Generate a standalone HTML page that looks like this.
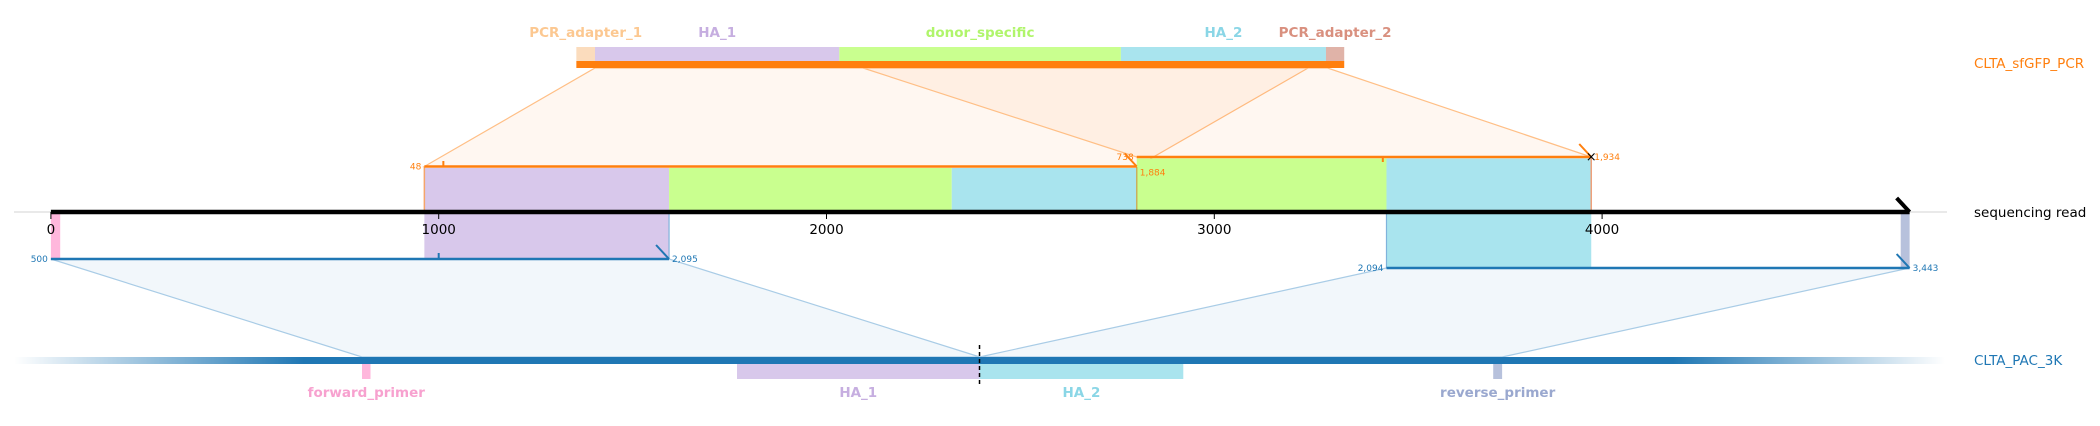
<!DOCTYPE html>
<html><head><meta charset="utf-8"><style>
html,body{margin:0;padding:0;background:#fff;}
svg{display:block;font-family:"DejaVu Sans","Liberation Sans",sans-serif;}
</style></head><body>
<svg id="chart" width="2100" height="426" viewBox="0 0 2100 426" xmlns="http://www.w3.org/2000/svg">
<defs>
<linearGradient id="fadeL" x1="0" x2="1" y1="0" y2="0"><stop offset="0" stop-color="#1f77b4" stop-opacity="0"/><stop offset="1" stop-color="#1f77b4" stop-opacity="1"/></linearGradient>
<linearGradient id="fadeR" x1="0" x2="1" y1="0" y2="0"><stop offset="0" stop-color="#1f77b4" stop-opacity="1"/><stop offset="1" stop-color="#1f77b4" stop-opacity="0"/></linearGradient>
</defs>
<g id="layer"></g>
</svg>
<script>
// read axis data (bp)
const tickValues = [0, 1000, 2000, 3000, 4000];
const readLength = 4793;
// top PCR reference features (query bp)
const pcrFeatureNames = ["PCR_adapter_1", "HA_1", "donor_specific", "HA_2", "PCR_adapter_2"];
const pcrFeatureStart = [0, 48, 677, 1402, 1930];
const pcrFeatureEnd = [48, 677, 1402, 1930, 1977];
const pcrFeatureColors = ["#fbdcbd", "#d8c8eb", "#c9ff8f", "#a9e4ee", "#e0b3a8"];
const pcrLabelColors = ["#fcc891", "#c6aee0", "#b0f56b", "#8ad6e6", "#d9907f"];
// PCR alignments
const pcrAlnReadStart = [963, 2800];
const pcrAlnReadEnd = [2800, 3972];
const pcrAlnQStart = [48, 738];
const pcrAlnQEnd = [1884, 1934];
// fills beneath PCR alignments (read coords)
const pcrFillStart = [963, 1594, 2323, 2800, 3444];
const pcrFillEnd = [1594, 2323, 2800, 3444, 3972];
const pcrFillColor = ["#d8c8eb", "#c9ff8f", "#a9e4ee", "#c9ff8f", "#a9e4ee"];
const pcrFillRow = [0, 0, 0, 1, 1];
// PAC alignments
const pacAlnReadStart = [0, 3444];
const pacAlnReadEnd = [1594, 4793];
const pacAlnQStart = [500, 2094];
const pacAlnQEnd = [2095, 3443];
// bottom reference features (bp on PAC)
const pacFeatureNames = ["forward_primer", "HA_1", "HA_2", "reverse_primer"];
const pacFeatureStart = [500, 1468, 2094, 3420];
const pacFeatureEnd = [522, 2094, 2620, 3443];
const pacFeatureColors = ["#ffb7dc", "#d8c8eb", "#a9e4ee", "#b7c1dc"];
const pacLabelColors = ["#f7a1cf", "#c6aee0", "#8ad6e6", "#9aa8cf"];

const NS = "http://www.w3.org/2000/svg";
const layer = document.getElementById("layer");
function el(tag, attrs, parent) {
  const e = document.createElementNS(NS, tag);
  for (const k in attrs) e.setAttribute(k, attrs[k]);
  (parent || layer).appendChild(e);
  return e;
}
function xRead(v) { return 50.9 + v * 0.3878; }
function xPcr(q) { return 595 + (q - 48) * 0.3884; }
function xPac(q) { return 362 + (q - 500) * 0.3874; }
const axisY = 212, pcrRowY = [166.5, 157], pacRowY = [259, 268];

for (let i = 0; i < pcrAlnReadStart.length; i++) {
  const p = el("polygon", {points: `${xPcr(pcrAlnQStart[i])},68 ${xPcr(pcrAlnQEnd[i])},68 ${xRead(pcrAlnReadEnd[i])},${pcrRowY[i]} ${xRead(pcrAlnReadStart[i])},${pcrRowY[i]}`, fill: "#ff7f0e", "fill-opacity": "0.06", stroke: "#ffbf86", "stroke-width": "1.2"});
  
  
}
for (let i = 0; i < pacAlnReadStart.length; i++) {
  const p = el("polygon", {points: `${xRead(pacAlnReadStart[i])},${pacRowY[i]} ${xRead(pacAlnReadEnd[i])},${pacRowY[i]} ${xPac(pacAlnQEnd[i])},357 ${xPac(pacAlnQStart[i])},357`, fill: "#1f77b4", "fill-opacity": "0.06", stroke: "#a9cce6", "stroke-width": "1.2"});
  
  
}
for (let i = 0; i < pcrFillStart.length; i++) {
  const y0 = pcrRowY[pcrFillRow[i]] + 1.5;
  const r = el("rect", {x: xRead(pcrFillStart[i]), y: y0, width: xRead(pcrFillEnd[i]) - xRead(pcrFillStart[i]), height: axisY - y0, fill: pcrFillColor[i]});
  
  
}
[[963,1594,0,"#d8c8eb"],[3444,3972,1,"#a9e4ee"],[0,24,0,"#ffb7dc"],[4770,4793,1,"#b7c1dc"]].forEach(f => {
  const r = el("rect", {x: xRead(f[0]), y: axisY, width: xRead(f[1]) - xRead(f[0]), height: pacRowY[f[2]] - axisY, fill: f[3]});
  
  
});
el("line", {x1: xRead(963), x2: xRead(963), y1: 167, y2: axisY, stroke: "#f5a56a", "stroke-width": 1.5});
el("line", {x1: xRead(3972), x2: xRead(3972), y1: 157, y2: axisY, stroke: "#f0a07a", "stroke-width": 1.5});
el("line", {x1: xRead(2800), x2: xRead(2800), y1: 167, y2: axisY, stroke: "#c8b060", "stroke-width": 1.5});
el("line", {x1: xRead(1594), x2: xRead(1594), y1: axisY, y2: 259, stroke: "#7fb3dc", "stroke-width": 1.2});
el("line", {x1: xRead(3444), x2: xRead(3444), y1: axisY, y2: 268, stroke: "#7fb3dc", "stroke-width": 1.2});

el("line", {x1: 14, x2: 1947, y1: axisY, y2: axisY, stroke: "#e2e2e2", "stroke-width": 1.5});
const ax = el("line", {x1: xRead(0), x2: xRead(readLength), y1: axisY, y2: axisY, stroke: "#000", "stroke-width": 4.5});


el("line", {x1: xRead(readLength) - 13, y1: 198, x2: xRead(readLength), y2: axisY, stroke: "#000", "stroke-width": 4});
tickValues.forEach(v => {
  el("line", {x1: xRead(v), x2: xRead(v), y1: axisY, y2: axisY + 7, stroke: "#000", "stroke-width": 1});
  const t = el("text", {x: xRead(v), y: 234, "text-anchor": "middle", "font-size": "13.5", fill: "#000"});
  t.textContent = v;
  
  
});

for (let i = 0; i < pcrFeatureNames.length; i++) {
  const x0 = xPcr(pcrFeatureStart[i]), x1 = xPcr(pcrFeatureEnd[i]);
  const r = el("rect", {x: x0, y: 47, width: x1 - x0, height: 14, fill: pcrFeatureColors[i]});
  
  
  const t = el("text", {x: (x0 + x1) / 2, y: 37, "text-anchor": "middle", "font-size": "13.5", "font-weight": "bold", fill: pcrLabelColors[i]});
  t.textContent = pcrFeatureNames[i];
  
  
}
const pb = el("rect", {x: xPcr(0), y: 61, width: xPcr(1977) - xPcr(0), height: 7, fill: "#ff7f0e"});



for (let i = 0; i < pcrAlnReadStart.length; i++) {
  const y = pcrRowY[i], xa = xRead(pcrAlnReadStart[i]), xb = xRead(pcrAlnReadEnd[i]);
  const l = el("line", {x1: xa, x2: xb, y1: y, y2: y, stroke: "#ff7f0e", "stroke-width": 2.5});
  
  
  el("line", {x1: xb - 12, y1: y - 13, x2: xb, y2: y, stroke: "#ff7f0e", "stroke-width": 2});
  const s = el("text", {x: xa - 3, y: y + 3, "text-anchor": "end", "font-size": "9", fill: "#ff7f0e"});
  s.textContent = pcrAlnQStart[i];
  const e = el("text", {x: xb + 3, y: y + (i === 0 ? 9 : 3), "font-size": "9", fill: "#ff7f0e"});
  e.textContent = pcrAlnQEnd[i].toLocaleString("en-US");
}
el("line", {x1: xRead(1012), x2: xRead(1012), y1: 161, y2: 166, stroke: "#ff7f0e", "stroke-width": 2});
el("line", {x1: xRead(3450) - 6, x2: xRead(3450) - 6, y1: 156, y2: 162, stroke: "#ff7f0e", "stroke-width": 2});
const xm = el("text", {x: xRead(3972), y: 161, "text-anchor": "middle", "font-size": "13", fill: "#000"});
xm.textContent = "×";

for (let i = 0; i < pacAlnReadStart.length; i++) {
  const y = pacRowY[i], xa = xRead(pacAlnReadStart[i]), xb = xRead(pacAlnReadEnd[i]);
  const l = el("line", {x1: xa, x2: xb, y1: y, y2: y, stroke: "#1f77b4", "stroke-width": 2.5});
  
  
  el("line", {x1: xb - 13, y1: y - 14, x2: xb, y2: y, stroke: "#1f77b4", "stroke-width": 2});
  const s = el("text", {x: xa - 3, y: y + 3, "text-anchor": "end", "font-size": "9", fill: "#1f77b4"});
  s.textContent = pacAlnQStart[i].toLocaleString("en-US");
  const e = el("text", {x: xb + 3, y: y + 3, "font-size": "9", fill: "#1f77b4"});
  e.textContent = pacAlnQEnd[i].toLocaleString("en-US");
}
el("line", {x1: xRead(1000), x2: xRead(1000), y1: 253, y2: 259, stroke: "#1f77b4", "stroke-width": 2});

el("rect", {x: 14, y: 357, width: 290, height: 7, fill: "url(#fadeL)"});
const b2 = el("rect", {x: 303, y: 357, width: 1371, height: 7, fill: "#1f77b4"});


el("rect", {x: 1673, y: 357, width: 272, height: 7, fill: "url(#fadeR)"});
for (let i = 0; i < pacFeatureNames.length; i++) {
  const x0 = xPac(pacFeatureStart[i]), x1 = xPac(pacFeatureEnd[i]);
  const r = el("rect", {x: x0, y: 364, width: x1 - x0, height: 15, fill: pacFeatureColors[i]});
  
  
  const t = el("text", {x: (x0 + x1) / 2, y: 397, "text-anchor": "middle", "font-size": "13.5", "font-weight": "bold", fill: pacLabelColors[i]});
  t.textContent = pacFeatureNames[i];
  
  
}
const cut = el("line", {x1: xPac(2094), x2: xPac(2094), y1: 345, y2: 385, stroke: "#000", "stroke-width": 1.5, "stroke-dasharray": "4,3"});



[["CLTA_sfGFP_PCR", 68, "#ff7f0e", "label-clta-sfgfp-pcr"], ["sequencing read", 217, "#000", "label-sequencing-read"], ["CLTA_PAC_3K", 365, "#1f77b4", "label-clta-pac-3k"]].forEach(d => {
  const t = el("text", {x: 1974, y: d[1], "font-size": "13.5", fill: d[2]});
  t.textContent = d[0];
  
  
});
</script>
</body></html>
